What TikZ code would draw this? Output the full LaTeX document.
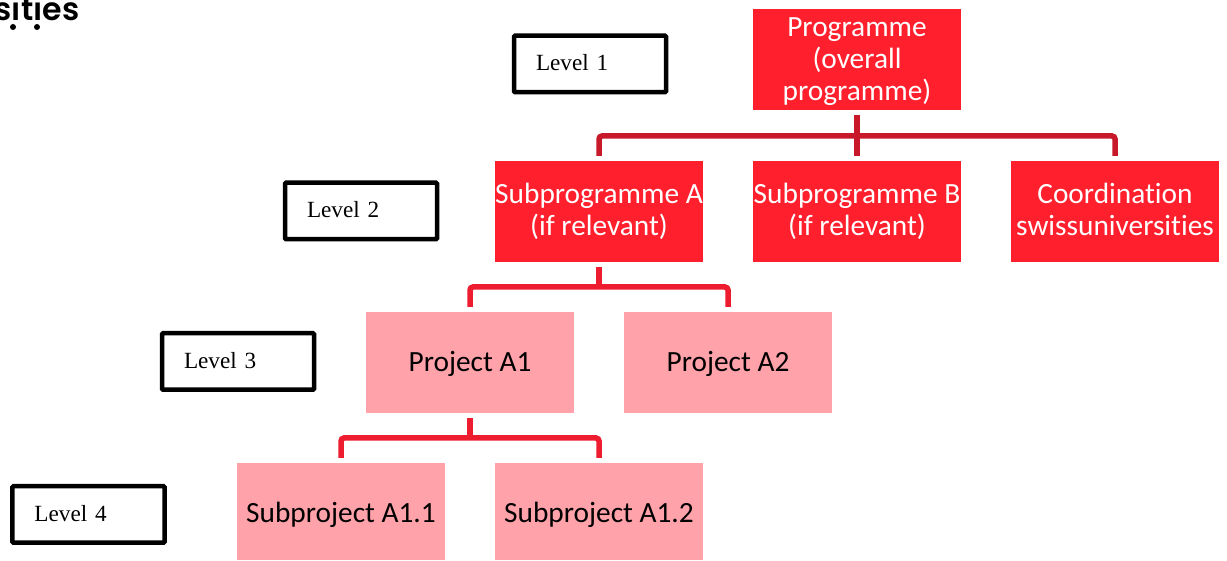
\documentclass[tikz,border=0pt]{standalone}
\usepackage{fontspec}
\setmainfont[Ligatures=NoCommon]{Carlito}
\newfontfamily\levelfont{Liberation Serif}
\newfontfamily\logofont{Poppins SemiBold}
\definecolor{progred}{HTML}{FF1F2D}
\definecolor{projpink}{HTML}{FFA2AA}
\definecolor{busdark}{HTML}{C8192A}
\definecolor{buslight}{HTML}{ED1C2E}
\tikzset{
    headrule/.style={execute at begin node={\rule{0pt}{#1}}},
    tailrule/.style={execute at end node={\rule[-#1]{0pt}{#1}}},
    progbox/.style={fill=progred,text=white,minimum width=2.08cm,minimum height=1.01cm,
        inner sep=0pt,outer sep=0.05cm,align=center,font=\fontsize{8.35}{9.1}\selectfont},
    projbox/.style={progbox,fill=projpink,text=black,tailrule=2.5pt},
    levelbox/.style={draw=black,line width=0.045cm,rounded corners=0.01cm,minimum height=0.565cm,
        text width=1.08cm,inner xsep=0.22cm,inner ysep=0pt,align=left,
        font=\levelfont\fontsize{6.6}{7.5}\selectfont,tailrule=0.6pt},
    busline/.style={line width=0.055cm,rounded corners=0.03cm},
}
\begin{document}
\begin{tikzpicture}
    \useasboundingbox (0,0) rectangle (12.27,-5.61);
    %% logo
    \node[anchor=base east,inner sep=0pt,font=\logofont\fontsize{9}{9}\selectfont] (logo) at (0.80,-0.21) {sıtıes};
    \fill[black] (0.13,-0.27) circle (0.03);
    \fill[black] (0.37,-0.27) circle (0.03);
    %% levels
    \node[levelbox] (levelone) at (5.90,-0.64) {Level 1};
    \node[levelbox] (leveltwo) at (3.61,-2.11) {Level 2};
    \node[levelbox] (levelthree) at (2.38,-3.615) {Level 3};
    \node[levelbox] (levelfour) at (0.885,-5.145) {Level 4};
    %% programme
    \node[progbox,tailrule=0.2pt] (prog) at (8.57,-0.595) {Programme\\(overall\\\smash{programme)}};
    \node[progbox] (suba) at (5.99,-2.115) {Subprogramme A\\(if relevant)};
    \node[progbox] (subb) at (8.57,-2.115) {Subprogramme B\\(if relevant)};
    \node[progbox,tailrule=1.4pt] (coord) at (11.15,-2.115) {Coordination\\swissuniversities};
    %% projects
    \node[projbox,headrule=7.6pt] (proja) at (4.70,-3.625) {Project A1};
    \node[projbox,headrule=7.6pt] (projb) at (7.28,-3.625) {Project A2};
    \node[projbox,headrule=8.74pt,minimum height=0.97cm] (subproja) at (3.41,-5.115) {Subproject A1.1};
    \node[projbox,headrule=8.74pt,minimum height=0.97cm] (subprojb) at (5.99,-5.115) {Subproject A1.2};
    %% connectors
    \coordinate (busone) at (8.57,-1.36);
    \coordinate (bustwo) at (5.99,-2.87);
    \coordinate (busthree) at (4.70,-4.38);
    \draw[busline,busdark] (prog.south) -- (subb.north);
    \draw[busline,busdark] (suba.north) |- (busone) -| (coord.north);
    \draw[busline,buslight] (suba.south) -- (bustwo);
    \draw[busline,buslight] (proja.north) |- (bustwo) -| (projb.north);
    \draw[busline,buslight] (proja.south) -- (busthree);
    \draw[busline,buslight] (subproja.north) |- (busthree) -| (subprojb.north);
\end{tikzpicture}
\end{document}
